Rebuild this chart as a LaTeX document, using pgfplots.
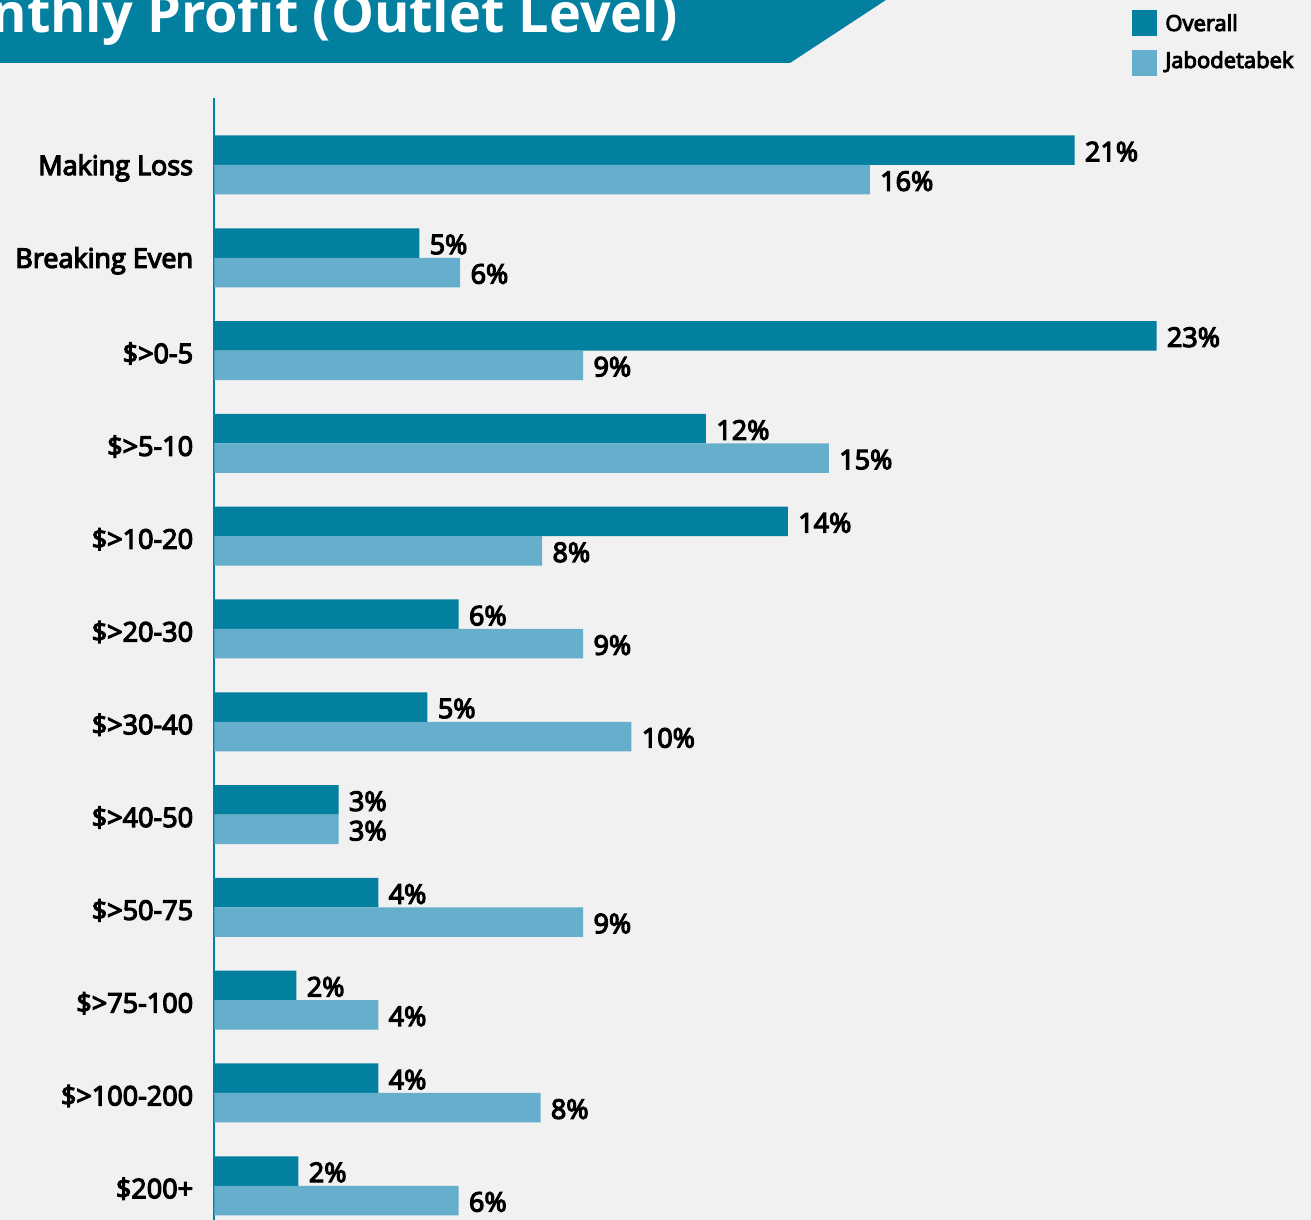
\documentclass[border=0pt]{standalone}
\usepackage{fontspec}
\setmainfont{Open Sans}
\newfontfamily\osb{Open Sans}[FakeBold=4.5]
\usepackage{pgfplots}
\pgfplotsset{compat=1.18}
\definecolor{overall}{HTML}{037FA0}
\definecolor{jabo}{HTML}{65AFCC}
\definecolor{bg}{HTML}{F1F1F1}
\begin{document}
\begin{tikzpicture}
\clip (0,0) rectangle (655.5pt,610pt);
\fill[bg] (0,0) rectangle (655.5pt,610pt);
% title banner
\fill[overall] (-5pt,578.5pt) -- (395pt,578.5pt) -- (446pt,612pt) -- (-5pt,612pt) -- cycle;
\node[anchor=base east, inner sep=0pt, text=white, font=\bfseries\fontsize{27}{31}\selectfont] at (339pt,593.5pt) {Monthly Profit (Outlet Level)};
% legend
\fill[overall] (566pt,592pt) rectangle (578.5pt,605pt);
\node[anchor=base west, inner sep=0pt, font=\osb\fontsize{11}{13}\selectfont] at (582.5pt,594.5pt) {Overall};
\fill[jabo] (566pt,572pt) rectangle (578.5pt,585pt);
\node[anchor=base west, inner sep=0pt, font=\osb\fontsize{11}{13}\selectfont] at (582.5pt,576pt) {Jabodetabek};
\begin{axis}[
  at={(107.25pt,0pt)}, anchor=south west,
  width=548pt, height=561pt, scale only axis,
  xmin=0, xmax=26.76,
  ymin=-0.722, ymax=11.369,
  y dir=reverse,
  xbar, bar width=14.75pt,
  axis x line=none,
  axis y line*=left,
  axis line style={draw=overall, line width=1pt},
  ytick={0,...,11},
  yticklabels={Making Loss,Breaking Even,\$>0-5,\$>5-10,\$>10-20,\$>20-30,\$>30-40,\$>40-50,\$>50-75,\$>75-100,\$>100-200,\$200+},
  major tick length=0pt,
  ytick style={draw=none},
  yticklabel style={font=\osb\fontsize{13.5}{15}\selectfont, inner sep=0pt, anchor=east, xshift=-10.5pt, yshift=-1.5pt},
  /pgf/number format/assume math mode=true,
  nodes near coords={\pgfmathprintnumber[fixed,precision=0,assume math mode=true]{\pgfplotspointmeta}\%},
  every node near coord/.append style={font=\osb\fontsize{13.5}{15}\selectfont, anchor=west, inner sep=0pt, xshift=5pt, yshift=-0.7pt, text=black},
  clip=false,
]
\addplot[draw=none, fill=overall, bar shift=7.375pt] coordinates {
(21,0) (5,1) (23,2) (12,3) (14,4) (5.96,5) (5.2,6) (3.03,7) (4,8) (2,9) (4,10) (2.05,11)};
\addplot[draw=none, fill=jabo, bar shift=-7.375pt] coordinates {
(16,0) (6,1) (9,2) (15,3) (8,4) (9,5) (10.18,6) (3.03,7) (9,8) (4,9) (7.96,10) (5.96,11)};
\end{axis}
\end{tikzpicture}
\end{document}
